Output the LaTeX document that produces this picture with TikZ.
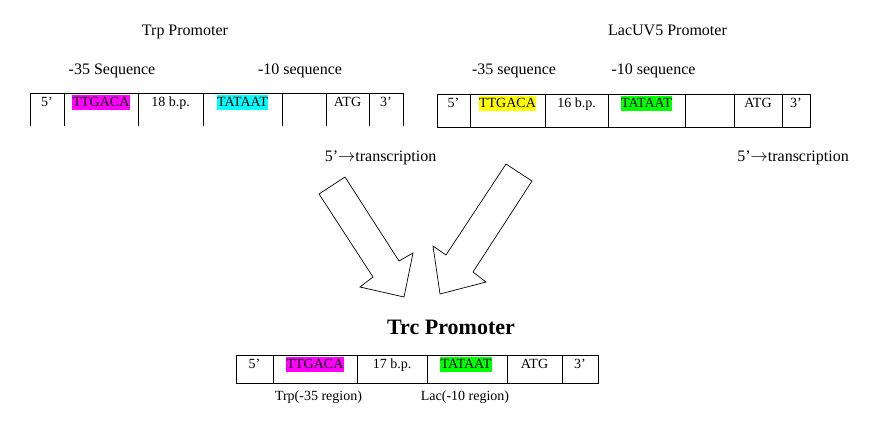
\documentclass[tikz,border=0pt]{standalone}
\usepackage{fontspec}
\setmainfont{Liberation Serif}
\definecolor{hlmag}{RGB}{255,0,255}
\definecolor{hlcyan}{RGB}{0,255,255}
\definecolor{hlyellow}{RGB}{255,255,0}
\definecolor{hlgreen}{RGB}{0,255,0}
\tikzset{
  lbl/.style={font=\fontsize{16}{19}\selectfont, anchor=base, inner sep=0pt},
  cell/.style={font=\fontsize{14}{17}\selectfont, anchor=base, inner sep=0pt},
  hl/.style={cell, fill=#1, text height=11pt, text depth=3pt, inner xsep=0.6pt, inner ysep=0.5pt},
  boxline/.style={draw=black, line width=0.8pt},
  bigarrow/.style={draw=black, line width=0.7pt, line join=miter, fill=white},
  title/.style={font=\bfseries\fontsize{22}{26}\selectfont, anchor=base, inner sep=0pt}
}
\newcommand{\tarrow}{\ensuremath{\rightarrow}}
\begin{document}
\begin{tikzpicture}[x=1pt,y=-1pt]
\fill[white] (0,0) rectangle (891,429);
\useasboundingbox (0,0) rectangle (891,429);

% ---- headings
\node[lbl] (trptitle) at (185,35) {Trp Promoter};
\node[lbl] (lactitle) at (667.5,35) {LacUV5 Promoter};
\node[lbl] (trp35) at (112,74) {-35 Sequence};
\node[lbl] (trp10) at (300,74) {-10 sequence};
\node[lbl] (lac35) at (514,74) {-35 sequence};
\node[lbl] (lac10) at (653.5,74) {-10 sequence};

% ---- Trp box (no bottom line)
\draw[boxline] (30,126) -- (30,93) -- (403,93) -- (403,126);
\foreach \x in {64,138,203,282,326,369} \draw[boxline] (\x,93) -- (\x,126);
\node[cell] (t5) at (47,106) {5’};
\node[hl=hlmag] (tttg) at (101,106) {TTGACA};
\node[cell] (tbp) at (170.5,106) {18 b.p.};
\node[hl=hlcyan] (ttat) at (242.5,106) {TATAAT};
\node[cell] (tatg) at (347.5,106) {ATG};
\node[cell] (t3) at (386,106) {3’};

% ---- Lac box
\draw[boxline] (437,94) rectangle (810,127);
\foreach \x in {470,545,608,685,734,782} \draw[boxline] (\x,94) -- (\x,127);
\node[cell] (l5) at (453.5,107) {5’};
\node[hl=hlyellow] (lttg) at (507.5,107) {TTGACA};
\node[cell] (lbp) at (576.5,107) {16 b.p.};
\node[hl=hlgreen] (ltat) at (646.5,107) {TATAAT};
\node[cell] (latg) at (758,107) {ATG};
\node[cell] (l3) at (796,107) {3’};

% ---- transcription labels
\node[lbl] (trtxt) at (380.5,161) {5’\tarrow transcription};
\node[lbl] (lactxt) at (793,161) {5’\tarrow transcription};

% ---- block arrows
\draw[bigarrow] (345,177) -- (319,194) -- (373,277) -- (360,287) -- (404,297) -- (413,253) -- (399,261) -- cycle;
\draw[bigarrow] (506,164) -- (532,181) -- (473,272) -- (486,282) -- (440,294) -- (433,246) -- (446,255) -- cycle;

% ---- Trc
\node[title] (trc) at (451,334) {Trc Promoter};
\draw[boxline] (236,355) rectangle (598,383);
\foreach \x in {273,357,427,507,562} \draw[boxline] (\x,355) -- (\x,383);
\node[cell] (c5) at (254.5,368.5) {5’};
\node[hl=hlmag] (cttg) at (315,368.5) {TTGACA};
\node[cell] (cbp) at (392,368.5) {17 b.p.};
\node[hl=hlgreen] (ctat) at (466,368.5) {TATAAT};
\node[cell] (catg) at (534.5,368.5) {ATG};
\node[cell] (c3) at (580,368.5) {3’};
\node[cell] (ctrp) at (318.5,400) {Trp(-35 region)};
\node[cell] (clac) at (465,400) {Lac(-10 region)};
\end{tikzpicture}
\end{document}
